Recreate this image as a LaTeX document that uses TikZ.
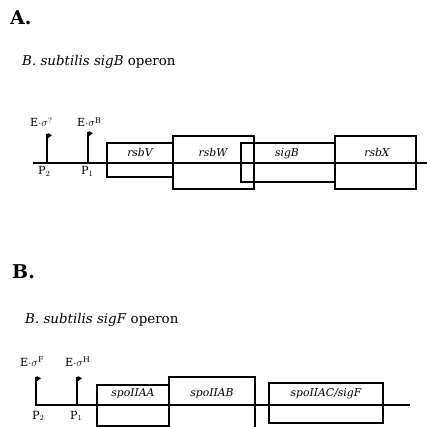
\documentclass[tikz,border=0pt]{standalone}
\usepackage{fontspec}
\setmainfont{DejaVu Serif}
\begin{document}
\begin{tikzpicture}[x=1pt,y=-1pt,
  heading/.style={anchor=base west,inner sep=0pt,font=\fontsize{19}{21}\selectfont\bfseries},
  subtitle/.style={anchor=base west,inner sep=0pt,font=\fontsize{13.4}{15}\selectfont},
  gene/.style={anchor=base,inner sep=0pt,font=\fontsize{10.8}{12}\selectfont\itshape},
  sig/.style={anchor=base west,inner sep=0pt,font=\fontsize{11.2}{13}\selectfont},
  genebox/.style={draw,line width=1.1pt},
  dna/.style={line width=1.2pt},
  stem/.style={line width=1.5pt}]
\useasboundingbox (0,0) rectangle (427,427);
\newcommand{\flag}[2]{\fill (#1,#2) -- (#1+4.5,#2+2.2) -- (#1,#2+5.5) -- cycle;}
% ---- Panel A
\node[heading] (hA) at (10,25) {A.};
\node[subtitle] (tA) at (22,66) {\textit{B.\ subtilis sigB} operon};
\coordinate (a0) at (33,163);
\coordinate (a1) at (427,163);
\draw[dna] (a0) -- (a1);
\draw[genebox] (107,143) rectangle (173,177);
\draw[genebox] (173,136) rectangle (254,189);
\draw[genebox] (241,143) rectangle (335,182);
\draw[genebox] (335,136) rectangle (416,189);
\node[gene] (gV) at (140,157) {rsbV};
\node[gene] (gW) at (213,157) {rsbW};
\node[gene] (gB) at (287,157) {sigB};
\node[gene] (gX) at (377,157) {rsbX};
\coordinate (p2a) at (47,163);
\coordinate (p1a) at (88,163);
\draw[stem] (p2a) -- (47,134);
\draw[stem] (p1a) -- (88,132);
\flag{47.5}{133}
\flag{88.5}{131}
\node[sig] (eA2) at (30,127) {E$\cdot\sigma^{?}$};
\node[sig] (eA1) at (77,127) {E$\cdot\sigma^{\mathrm{B}}$};
\node[sig] (pA2) at (38,175) {P$_2$};
\node[sig] (pA1) at (81,175) {P$_1$};
% ---- Panel B
\node[heading] (hB) at (12,278) {B.};
\node[subtitle] (tB) at (25,323) {\textit{B.\ subtilis sigF} operon};
\coordinate (b0) at (35,405);
\coordinate (b1) at (410,405);
\draw[dna] (b0) -- (b1);
\draw[genebox] (97,385) rectangle (169,426);
\draw[genebox] (169,377) rectangle (255,430);
\draw[genebox] (269,383) rectangle (383,423);
\node[gene] (gAA) at (133,396) {spoIIAA};
\node[gene] (gAB) at (212,396) {spoIIAB};
\node[gene] (gAC) at (326,396) {spoIIAC/sigF};
\coordinate (p2b) at (36,405);
\coordinate (p1b) at (77,405);
\draw[stem] (p2b) -- (36,377);
\draw[stem] (p1b) -- (77,377);
\flag{36.5}{376}
\flag{77.5}{376}
\node[sig] (eB2) at (20,366) {E$\cdot\sigma^{\mathrm{F}}$};
\node[sig] (eB1) at (65,366) {E$\cdot\sigma^{\mathrm{H}}$};
\node[sig] (pB2) at (32,419) {P$_2$};
\node[sig] (pB1) at (70,419) {P$_1$};
\end{tikzpicture}
\end{document}
